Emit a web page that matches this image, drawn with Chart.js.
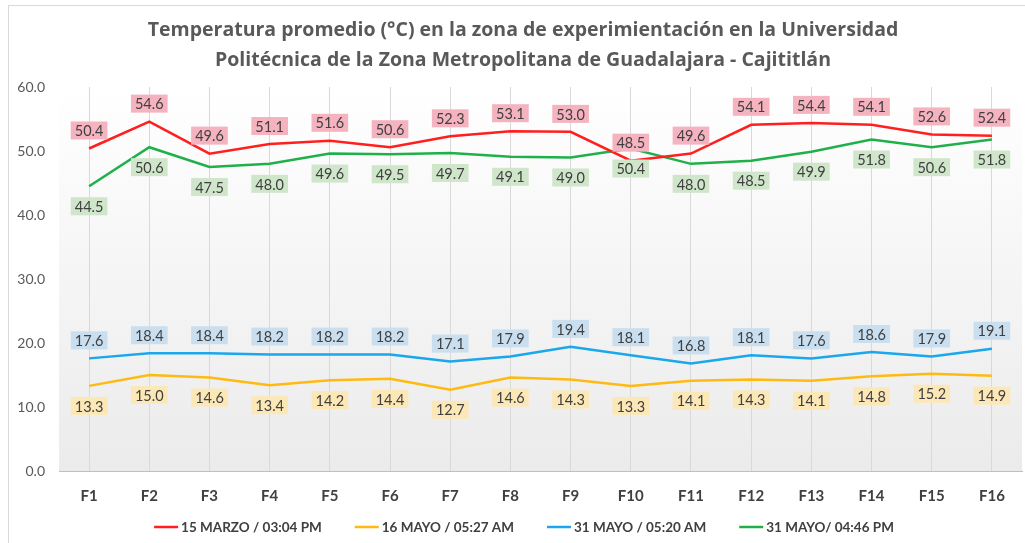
<!DOCTYPE html>
<html lang="es">
<head>
    <meta charset="UTF-8">
    <title>Temperatura promedio</title>
    <script src="https://cdn.jsdelivr.net/npm/chart.js"></script>
    <style>
        body { margin: 0; background: #fff; }
    </style>
</head>
<body>
    <canvas id="chart" width="1025" height="543"></canvas>
    <script>
        // Datos: temperatura promedio por fila (F1..F16)
        var categorias = ['F1', 'F2', 'F3', 'F4', 'F5', 'F6', 'F7', 'F8',
                          'F9', 'F10', 'F11', 'F12', 'F13', 'F14', 'F15', 'F16'];
        var marzo0304 = [50.4, 54.6, 49.6, 51.1, 51.6, 50.6, 52.3, 53.1, 53.0, 48.5, 49.6, 54.1, 54.4, 54.1, 52.6, 52.4];
        var mayo16_0527 = [13.3, 15.0, 14.6, 13.4, 14.2, 14.4, 12.7, 14.6, 14.3, 13.3, 14.1, 14.3, 14.1, 14.8, 15.2, 14.9];
        var mayo31_0520 = [17.6, 18.4, 18.4, 18.2, 18.2, 18.2, 17.1, 17.9, 19.4, 18.1, 16.8, 18.1, 17.6, 18.6, 17.9, 19.1];
        var mayo31_1646 = [44.5, 50.6, 47.5, 48.0, 49.6, 49.5, 49.7, 49.1, 49.0, 50.4, 48.0, 48.5, 49.9, 51.8, 50.6, 51.8];
        var nombres = ['15 MARZO / 03:04 PM', '16 MAYO / 05:27 AM', '31 MAYO / 05:20 AM', '31 MAYO/ 04:46 PM'];
        var ticksY = [0, 10, 20, 30, 40, 50, 60];

        var fuente = 'Lato, "Open Sans", sans-serif';

        // Marco gris y fondo degradado del área de trazado
        var fondo = {
            id: 'fondo',
            afterLayout: function(chart) {
                // centrar el título un poco a la derecha, dentro del marco
                if (chart.titleBlock) chart.titleBlock.left = 24;
            },
            beforeDraw: function(chart) {
                var ctx = chart.ctx, a = chart.chartArea;
                ctx.save();
                ctx.strokeStyle = '#d9d9d9';
                ctx.lineWidth = 1;
                ctx.strokeRect(8.5, 5.5, 1040, 560);
                var g = ctx.createLinearGradient(0, a.top, 0, a.bottom);
                g.addColorStop(0, '#ffffff');
                g.addColorStop(1, '#ebebeb');
                ctx.fillStyle = g;
                ctx.fillRect(a.left, a.top, a.right - a.left, a.bottom - a.top);
                ctx.restore();
            }
        };

        // Etiquetas de valor con recuadro de color
        var etiquetas = {
            id: 'etiquetas',
            afterDatasetsDraw: function(chart) {
                var ctx = chart.ctx;
                ctx.save();
                ctx.font = '14.5px ' + fuente;
                ctx.textAlign = 'center';
                ctx.textBaseline = 'middle';
                chart.data.datasets.forEach(function(ds, i) {
                    var meta = chart.getDatasetMeta(i);
                    meta.data.forEach(function(p, j) {
                        var txt = ds.data[j].toFixed(1);
                        var w = ctx.measureText(txt).width + 8;
                        var h = 18;
                        var cy = ds.etiqueta === 'arriba' ? p.y - 18 : p.y + 20;
                        ctx.fillStyle = ds.fondoEtiqueta;
                        ctx.fillRect(p.x - w / 2, cy - h / 2, w, h);
                        ctx.fillStyle = '#404040';
                        ctx.fillText(txt, p.x, cy + 1);
                    });
                });
                ctx.restore();
            }
        };

        // Leyenda inferior dibujada a mano
        var leyenda = {
            id: 'leyenda',
            afterDraw: function(chart) {
                var ctx = chart.ctx;
                ctx.save();
                ctx.font = 'bold 13.5px ' + fuente;
                ctx.textBaseline = 'middle';
                var y = 527, gap = 33, linea = 24;
                var anchos = chart.data.datasets.map(function(ds) {
                    return linea + 3 + ctx.measureText(ds.label).width;
                });
                var total = anchos.reduce(function(s, v) { return s + v; }, 0) + gap * (anchos.length - 1);
                var x = 524 - total / 2;
                chart.data.datasets.forEach(function(ds, i) {
                    ctx.strokeStyle = ds.borderColor;
                    ctx.lineWidth = 2.5;
                    ctx.beginPath();
                    ctx.moveTo(x, y);
                    ctx.lineTo(x + linea, y);
                    ctx.stroke();
                    ctx.fillStyle = '#404040';
                    ctx.fillText(ds.label, x + linea + 3, y + 1);
                    x += anchos[i] + gap;
                });
                ctx.restore();
            }
        };

        var ctx = document.getElementById('chart').getContext('2d');
        var chart = new Chart(ctx, {
            type: 'line',
            data: {
                labels: categorias,
                datasets: [
                    { label: nombres[0], data: marzo0304, borderColor: '#ff1f1f', etiqueta: 'arriba', fondoEtiqueta: '#f5b2bf' },
                    { label: nombres[1], data: mayo16_0527, borderColor: '#ffba12', etiqueta: 'abajo', fondoEtiqueta: '#fce8b6' },
                    { label: nombres[2], data: mayo31_0520, borderColor: '#1aa7ec', etiqueta: 'arriba', fondoEtiqueta: '#c9deef' },
                    { label: nombres[3], data: mayo31_1646, borderColor: '#1fb04a', etiqueta: 'abajo', fondoEtiqueta: '#cfe6cb' }
                ]
            },
            options: {
                responsive: false,
                animation: false,
                elements: {
                    line: { borderWidth: 2.5, tension: 0, fill: false },
                    point: { radius: 0, hoverRadius: 0 }
                },
                layout: { padding: { left: 0, right: 3, top: 0, bottom: 22 } },
                plugins: {
                    legend: { display: false },
                    tooltip: { enabled: false },
                    title: {
                        display: true,
                        text: ['Temperatura promedio (°C) en la zona de experimientación en la Universidad',
                               'Politécnica de la Zona Metropolitana de Guadalajara - Cajititlán'],
                        color: '#595959',
                        font: { family: '"Open Sans", sans-serif', size: 19.5, weight: 'bold', lineHeight: 1.54 },
                        padding: { top: 15, bottom: 12 }
                    }
                },
                scales: {
                    x: {
                        offset: true,
                        grid: { display: true, offset: false, color: '#d9d9d9', drawTicks: false },
                        border: { display: true, color: '#bfbfbf' },
                        ticks: { color: '#404040', padding: 16, font: { family: fuente, size: 15, weight: 'bold' } }
                    },
                    y: {
                        min: 0,
                        max: 60,
                        afterBuildTicks: function(scale) {
                            scale.ticks = ticksY.map(function(v) { return { value: v }; });
                        },
                        afterFit: function(scale) { scale.width = 59; },
                        grid: { display: false, drawTicks: false },
                        border: { display: false },
                        ticks: {
                            color: '#595959',
                            padding: 14,
                            font: { family: fuente, size: 14 },
                            callback: function(v) { return v.toFixed(1); }
                        }
                    }
                }
            },
            plugins: [fondo, etiquetas, leyenda]
        });
    </script>
</body>
</html>
